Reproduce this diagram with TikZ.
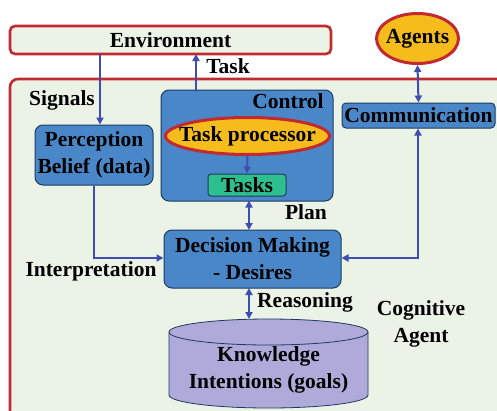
\documentclass[tikz,border=0pt]{standalone}
\usepackage{fontspec}
\setmainfont{Liberation Serif}
\usetikzlibrary{shapes.geometric,arrows.meta}
\definecolor{bgg}{HTML}{EAF3E5}
\definecolor{redb}{HTML}{C02A30}
\definecolor{blu}{HTML}{4A87C9}
\definecolor{blub}{HTML}{1E3A5F}
\definecolor{arr}{HTML}{3F4DB2}
\definecolor{yel}{HTML}{F6BC1C}
\definecolor{grn}{HTML}{2EBF8E}
\definecolor{pur}{HTML}{AFAAD9}
\tikzset{
  every node/.style={font=\fontsize{21.5}{27}\selectfont\bfseries, inner sep=0pt, align=center},
  redbox/.style={draw=redb, line width=2.6pt, fill=bgg, rounded corners=5pt},
  bluebox/.style={draw=blub, line width=1pt, fill=blu, rounded corners=8pt},
  redell/.style={ellipse, draw=redb, line width=3pt, fill=yel},
  conn/.style={draw=arr, line width=2pt, -{Triangle[width=7pt,length=7pt]}},
  dconn/.style={draw=arr, line width=2pt, {Triangle[width=7pt,length=7pt]}-{Triangle[width=7pt,length=7pt]}},
}
\begin{document}
\begin{tikzpicture}[x=1pt,y=-1pt]
\clip (0,0) rectangle (497,410);
\fill[white] (0,0) rectangle (497,410);
% cognitive agent frame
\draw[redb, line width=2.6pt, fill=bgg, rounded corners=8pt] (10,79) rectangle (530,440);
% environment
\node[redbox, minimum width=321pt, minimum height=28pt] (env) at (170.5,40) {Environment};
\node[redell, minimum width=82pt, minimum height=50pt] (agents) at (417.5,38.5) {};
\node (agentslbl) at (agents) {Agents};
% perception
\node[bluebox, minimum width=118pt, minimum height=60pt] (perc) at (94,155) {Perception\\Belief (data)};
% control
\node[bluebox, minimum width=172pt, minimum height=111pt] (ctrl) at (247,145.5) {};
\node (ctrllbl) at (288,101) {Control};
\node[redell, minimum width=164pt, minimum height=37pt] (tp) at (247.5,136) {};
\node (tplbl) at (tp) {Task processor};
\node[draw=blub, line width=1pt, fill=grn, rounded corners=3pt, minimum width=78pt, minimum height=22pt] (tasks) at (247,185) {Tasks};
% decision
\node[bluebox, minimum width=177pt, minimum height=58pt] (dec) at (252.5,259) {Decision Making\\- Desires};
% communication
\node[bluebox, rounded corners=4pt, minimum width=153pt, minimum height=25pt] (comm) at (418.5,115.5) {Communication};
% cylinder
\draw[blub, line width=0.8pt, fill=pur] (169,332) -- (169,395) arc[start angle=180, end angle=360, x radius=99.5pt, y radius=13pt] -- (368,332);
\draw[blub, line width=0.8pt, fill=pur] (268.5,332) ellipse[x radius=99.5pt, y radius=13pt];
\coordinate (cyltop) at (249,319);
\node (know) at (268.5,370) {Knowledge\\Intentions (goals)};
% labels
\node (signals) at (62,100) {Signals};
\node (task) at (228,66) {Task};
\node (plan) at (306,212) {Plan};
\node (interp) at (91,271) {Interpretation};
\node (reas) at (305,302) {Reasoning};
\node (cog) at (421,324) {Cognitive\\Agent};
% connectors
\coordinate (envs) at (100,54);
\coordinate (envt) at (196,54);
\draw[conn] (envs) -- (envs |- perc.north);
\draw[conn] (envt |- ctrl.north) -- (envt);
\draw[dconn] (agents.south) -- (comm.north);
\draw[conn] (tp.south) -- (tasks.north);
\draw[dconn] (249,200.5) -- (249,230);
\draw[dconn] (249,288) -- (cyltop);
\coordinate (pd) at (94,258);
\draw[conn] (perc.south -| pd) -- (pd) -- (dec.west |- pd);
\coordinate (dc) at (418,258);
\draw[dconn] (dec.east |- dc) -- (dc) -- (comm.south -| dc);
\end{tikzpicture}
\end{document}
